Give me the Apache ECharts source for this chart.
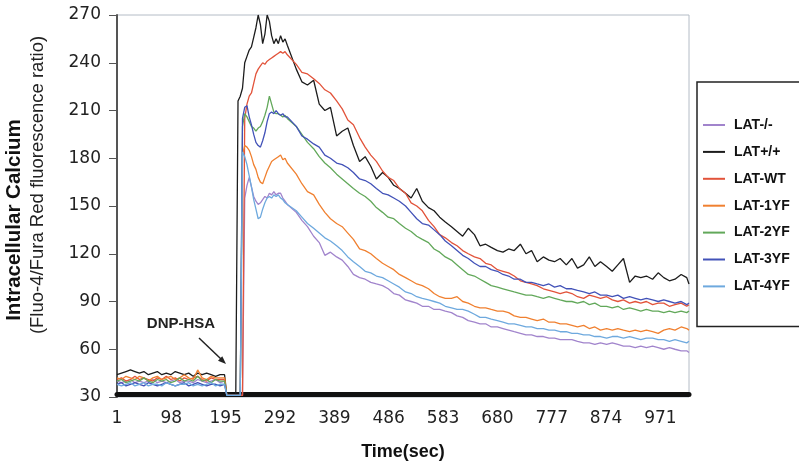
<!DOCTYPE html>
<html>
<head>
<meta charset="utf-8">
<script src="https://cdn.jsdelivr.net/npm/echarts@6/dist/echarts.min.js"></script>
<style>
	html, body { margin: 0; padding: 0; background: #fff; }
	#main { width: 799px; height: 463px; }
</style>
</head>
<body>
<div id="main"></div>
<script>
	// sample times (sec)
	var times = [
		1,9,17,25,33,41,49,57,65,73,81,89,97,105,113,121,129,137,145,153,161,169,177,185,193,
		197,201,205,209,213,217,221,225,229,233,237,241,245,249,253,257,261,265,269,273,277,281,285,289,293,297,301,305,
		321,331,341,352,362,372,382,393,403,413,423,434,444,454,464,475,485,495,505,516,526,536,546,557,567,577,587,598,608,618,
		628,639,649,659,669,680,690,700,710,721,731,741,751,762,772,782,792,803,813,823,834,844,854,864,875,885,895,905,916,926,
		936,946,957,967,977,987,997,1008,1018,1022
	];
	var tickLabels = [1, 98, 195, 292, 389, 486, 583, 680, 777, 874, 971];
	var names = ['LAT-/-', 'LAT+/+', 'LAT-WT', 'LAT-1YF', 'LAT-2YF', 'LAT-3YF', 'LAT-4YF'];
	var colors = ['#a184cc', '#1c1c1c', '#e2533a', '#f08030', '#62a85a', '#4252b8', '#6ea9de'];

	var latKO = [
		40,39,40,41,39,40,39,40,41,39,40,39,40,41,39,40,40,39,41,40,39,40,41,39,40,
		31,31,31,31,31,31,31,31,155,163,168,162,156,153,151,152,154,156,155,158,157,159,157,158,158,155,153,151,
		146,141,137,131,127,119,121,118,116,112,107,105,104,102,101,100,98,95,94,91,
		90,89,87,87,85,85,84,83,81,80,78,77,76,76,74,74,73,72,71,70,
		69,69,68,68,67,67,66,66,66,65,64,64,63,64,63,64,63,62,62,61,
		62,61,62,61,60,61,60,59,59,58
	];
	var latWTmouse = [
		44,45,46,47,46,45,46,44,45,46,44,45,44,46,45,44,45,43,45,44,45,44,43,44,44,
		31,31,31,31,31,216,219,224,240,244,248,250,256,262,270,264,252,258,270,266,257,252,255,252,257,253,255,251,
		236,228,226,229,214,210,212,194,197,199,188,178,181,175,167,171,168,163,161,158,
		155,161,153,149,147,143,140,137,134,131,136,132,125,126,124,122,121,123,122,126,
		120,122,115,118,116,115,117,113,117,111,113,118,112,115,112,109,113,117,102,106,
		105,106,104,108,105,103,104,107,105,101
	];
	var latWT = [
		41,42,40,41,43,41,42,41,40,42,41,43,41,42,40,42,41,42,43,41,40,42,41,41,41,
		31,31,31,31,31,31,31,31,205,214,219,221,227,233,236,238,240,239,241,242,243,244,245,246,247,246,247,245,
		239,234,233,230,227,223,221,216,211,204,201,193,187,182,178,172,168,166,161,158,
		152,150,147,141,137,132,130,127,125,122,120,118,117,114,113,110,109,108,106,103,
		102,101,100,98,97,96,95,96,95,93,92,94,93,92,93,91,90,91,89,90,
		89,90,88,89,89,87,88,89,87,88
	];
	var lat1YF = [
		42,41,43,42,41,43,42,40,42,43,41,42,43,41,42,44,42,41,47,42,41,43,42,42,42,
		31,31,31,31,31,31,31,182,188,187,185,181,176,173,168,165,164,168,172,175,178,179,180,181,182,179,180,177,
		170,164,159,157,151,146,142,139,137,133,129,123,122,120,117,114,112,110,107,105,
		103,101,100,98,95,93,92,92,93,90,89,87,86,86,85,84,84,83,81,80,
		80,79,78,79,77,77,76,76,75,74,75,73,74,72,73,72,73,72,71,72,
		71,72,71,70,72,73,72,74,73,72
	];
	var lat2YF = [
		40,41,39,40,41,40,42,40,39,41,40,41,39,40,42,40,41,40,43,40,41,39,41,40,40,
		31,31,31,31,31,31,31,200,208,206,203,200,199,197,199,200,203,207,212,219,214,209,208,208,207,206,207,205,
		200,195,190,186,181,177,174,170,167,164,161,158,156,153,149,146,143,142,139,136,
		134,131,129,127,123,121,118,116,113,110,107,106,104,102,100,99,98,97,96,95,
		94,94,93,92,93,92,91,90,90,89,90,88,89,87,87,86,87,85,86,85,
		84,85,84,84,83,84,83,84,83,84
	];
	var lat3YF = [
		38,39,37,38,39,38,37,39,38,37,38,39,38,37,38,39,37,38,39,38,37,38,38,37,38,
		31,31,31,31,31,31,31,205,212,213,206,201,195,190,188,187,191,196,203,208,209,208,210,208,207,208,206,206,
		200,194,192,189,187,182,180,177,176,174,171,167,166,164,161,158,157,155,153,150,
		146,142,139,138,135,132,128,125,122,119,117,114,112,112,110,109,107,106,104,104,
		102,102,101,100,101,99,100,98,98,97,96,95,96,94,94,93,94,92,93,92,
		91,92,91,90,91,90,89,90,88,89
	];
	var lat4YF = [
		38,37,38,39,37,38,39,37,38,38,37,39,38,37,38,38,39,37,38,37,38,39,37,38,38,
		31,31,31,31,31,31,31,184,181,176,169,162,154,148,142,143,148,152,155,156,155,157,156,157,155,154,152,151,
		147,143,139,136,133,130,128,125,122,118,115,112,109,108,106,105,103,101,99,96,
		95,93,92,91,90,89,87,86,85,85,84,82,80,80,79,78,77,76,76,75,
		74,74,73,73,72,72,71,71,70,70,69,69,68,68,67,68,68,67,68,67,
		66,67,67,66,66,65,66,65,64,65
	];

	var allValues = [latKO, latWTmouse, latWT, lat1YF, lat2YF, lat3YF, lat4YF];

	var series = allValues.map(function (vals, k) {
		return {
			name: names[k],
			type: 'line',
			symbol: 'none',
			showSymbol: false,
			animation: false,
			clip: true,
			color: colors[k],
			lineStyle: { width: 1.3, color: colors[k] },
			data: times.map(function (t, i) { return [t, vals[i]]; })
		};
	});

	var myChart = echarts.init(document.getElementById('main'));
	var option = {
		backgroundColor: '#fff',
		animation: false,
		grid: {
			left: 117, right: 110, top: 15, bottom: 66,
			outerBoundsMode: 'none',
			show: true, borderColor: '#b4bcc6', borderWidth: 1
		},
		legend: {
			orient: 'vertical',
			left: 697, top: 82,
			padding: [36, 30, 33, 6],
			icon: 'rect',
			itemWidth: 22, itemHeight: 2, itemGap: 12.9,
			borderColor: '#222', borderWidth: 1.5,
			backgroundColor: '#fff',
			data: names,
			textStyle: { fontFamily: 'Liberation Sans', fontWeight: 'bold', fontSize: 14, color: '#111', padding: [0, 0, 0, 4] }
		},
		xAxis: {
			type: 'value',
			min: 1, max: 1022,
			offset: -3,
			name: 'Time(sec)',
			nameLocation: 'middle',
			nameGap: 49,
			nameTextStyle: { fontFamily: 'Liberation Sans', fontWeight: 'bold', fontSize: 18, color: '#111' },
			axisLine: { lineStyle: { color: '#111', width: 5 } },
			axisTick: { show: false },
			splitLine: { show: false },
			axisLabel: {
				customValues: tickLabels,
				margin: 16,
				fontFamily: 'DejaVu Sans', fontSize: 17, color: '#222'
			}
		},
		yAxis: {
			type: 'value',
			min: 30, max: 270, interval: 30,
			axisLine: { show: true, lineStyle: { color: '#555', width: 2 } },
			axisTick: { show: true, length: 8, lineStyle: { color: '#555' } },
			splitLine: { show: false },
			axisLabel: { margin: 16, fontFamily: 'DejaVu Sans', fontSize: 17, color: '#222' }
		},
		graphic: [
			{
				type: 'text', x: 14, y: 220, rotation: Math.PI / 2,
				style: { text: 'Intracellular Calcium', fontFamily: 'Liberation Sans', fontWeight: 'bold', fontSize: 20.5, fill: '#111', align: 'center', verticalAlign: 'middle' }
			},
			{
				type: 'text', x: 38, y: 185, rotation: Math.PI / 2,
				style: { text: '(Fluo-4/Fura Red fluorescence ratio)', fontFamily: 'Liberation Sans', fontSize: 18.5, fill: '#222', align: 'center', verticalAlign: 'middle' }
			},
			{
				type: 'text', x: 181, y: 324,
				style: { text: 'DNP-HSA', fontFamily: 'Liberation Sans', fontWeight: 'bold', fontSize: 15, fill: '#222', align: 'center', verticalAlign: 'middle' }
			},
			{
				type: 'line',
				shape: { x1: 199, y1: 338, x2: 221, y2: 359 },
				style: { stroke: '#222', lineWidth: 1.5 }
			},
			{
				type: 'polygon',
				shape: { points: [[226, 364], [218, 360.7], [222.3, 356.3]] },
				style: { fill: '#222' }
			}
		],
		series: series
	};
	myChart.setOption(option);
</script>
</body>
</html>
